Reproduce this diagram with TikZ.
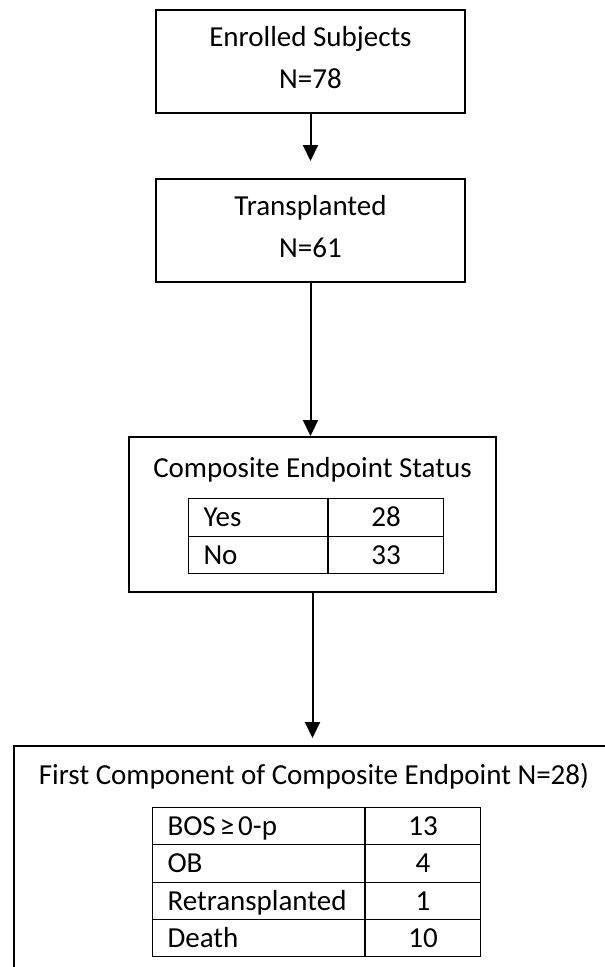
\documentclass[tikz,border=0pt]{standalone}
\usepackage{fontspec}
\setmainfont{Carlito}
\usetikzlibrary{arrows.meta}

\begin{document}
\begin{tikzpicture}[x=1pt,y=-1pt,font=\fontsize{29}{42}\selectfont,
  >={Triangle[width=15pt,length=16pt]},
  box/.style={draw,line width=2pt,minimum width=309pt,minimum height=103pt,align=center,inner sep=0pt,text depth=8pt},
  cell/.style={draw,line width=1pt,anchor=north west,inner sep=0pt,text height=18.5pt,text depth=0pt},
  lcell/.style={cell,text width=#1,align=left,inner xsep=15pt},
  rcell/.style={cell,text width=#1,align=center}]
\useasboundingbox (0,0) rectangle (605,967);
% flow boxes
\node[box] (enrolled) at (310.5,61.5) {Enrolled Subjects\\N=78};
\node[box] (transpl) at (310.5,230.5) {Transplanted\\N=61};
\node[box,minimum width=367pt,minimum height=155pt] (status) at (312.5,514.5) {};
\node[anchor=base] (statustitle) at (312.5,477) {Composite Endpoint Status};
\foreach \lab/\val [count=\i] in {Yes/28,No/33}{
  \node[lcell=109pt,minimum height=37.5pt] (st\i) at (188,{498+37.5*(\i-1)}) {\lab};
  \node[rcell=115pt,minimum height=37.5pt] (stv\i) at (st\i.north east) {\val};}
\node[draw,line width=2pt,anchor=north west,minimum width=700pt,minimum height=400pt] (first) at (12.5,745) {};
\node[anchor=base] (firsttitle) at (314,784) {First Component of Composite Endpoint N=28)};
\foreach \lab/\val [count=\i] in {BOS\hspace{4pt}≥\hspace{4pt}0-p/13,OB/4,Retransplanted/1,Death/10}{
  \node[lcell=182pt,minimum height=37.3pt] (fc\i) at (152,{807+37.3*(\i-1)}) {\lab};
  \node[rcell=115pt,minimum height=37.3pt] (fcv\i) at (fc\i.north east) {\val};}
% arrows
\draw[->,line width=2pt,shorten >=17pt] (enrolled) -- (transpl);
\draw[->,line width=2pt] (transpl.south) -- (transpl.south |- status.north);
\draw[->,line width=2pt,shorten >=7pt] (status.south) -- (status.south |- first.north);
\end{tikzpicture}
\end{document}
